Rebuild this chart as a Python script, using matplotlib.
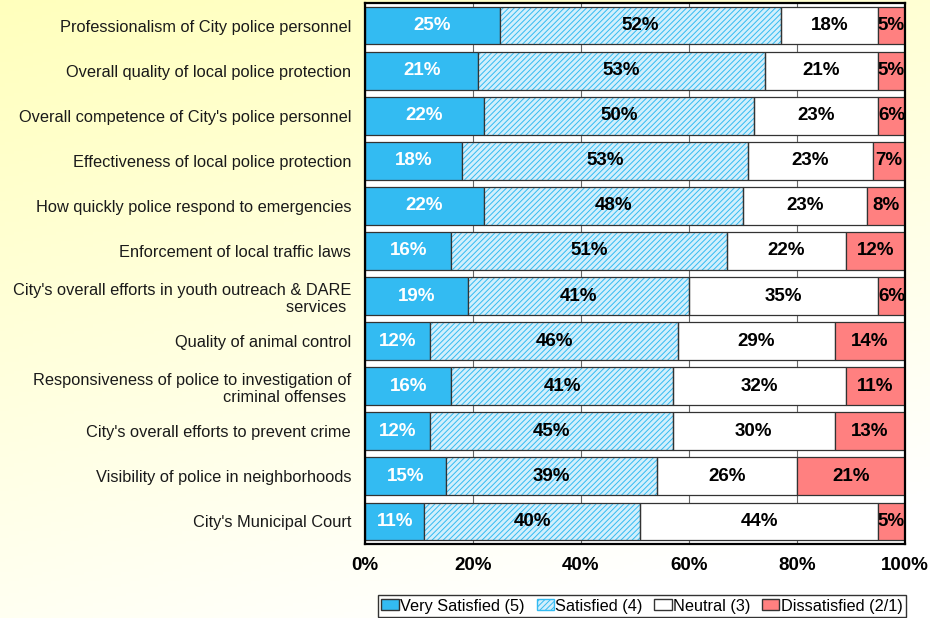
import numpy as np
import matplotlib
matplotlib.use("Agg")
import matplotlib.pyplot as plt
from matplotlib.patches import Patch

plt.rcParams['font.family'] = ['Liberation Sans', 'DejaVu Sans']
plt.rcParams['hatch.linewidth'] = 0.7

items = [
    "Professionalism of City police personnel",
    "Overall quality of local police protection",
    "Overall competence of City's police personnel",
    "Effectiveness of local police protection",
    "How quickly police respond to emergencies",
    "Enforcement of local traffic laws",
    "City's overall efforts in youth outreach & DARE\nservices ",
    "Quality of animal control",
    "Responsiveness of police to investigation of\ncriminal offenses ",
    "City's overall efforts to prevent crime",
    "Visibility of police in neighborhoods",
    "City's Municipal Court",
]
very_satisfied = [25, 21, 22, 18, 22, 16, 19, 12, 16, 12, 15, 11]
satisfied = [52, 53, 50, 53, 48, 51, 41, 46, 41, 45, 39, 40]
neutral = [18, 21, 23, 23, 23, 22, 35, 29, 32, 30, 26, 44]
dissatisfied = [5, 5, 6, 7, 8, 12, 6, 14, 11, 13, 21, 5]

series = [
    ("Very Satisfied (5)", very_satisfied, '#33bbf2', None, 'white'),
    ("Satisfied (4)", satisfied, '#d2effc', '//////', 'black'),
    ("Neutral (3)", neutral, 'white', None, 'black'),
    ("Dissatisfied (2/1)", dissatisfied, '#ff8080', None, 'black'),
]

fig = plt.figure(figsize=(9.3, 6.18), dpi=100)

# gradient background
bg = fig.add_axes([0, 0, 1, 1])
yy, xx = np.mgrid[0:1:200j, 0:1:200j]
t = np.clip(0.8 * yy + 0.35 * xx, 0, 1)
top = np.array([1.0, 1.0, 0.74])
bot = np.array([1.0, 1.0, 1.0])
img = top[None, None, :] * (1 - t[..., None]) + bot[None, None, :] * t[..., None]
bg.imshow(img, aspect='auto', extent=[0, 1, 0, 1], origin='upper')
bg.axis('off')

ax = fig.add_axes([365 / 930, 1 - 544 / 618, 540 / 930, 541 / 618])
ax.set_facecolor('white')

y = np.arange(len(items))
left = np.zeros(len(items))
for name, vals, color, hatch, tcolor in series:
    vals = np.array(vals, dtype=float)
    if hatch:
        ax.barh(y, vals, left=left, height=0.84, color=color, hatch=hatch,
                edgecolor='#33bbf2', linewidth=0, zorder=2)
        ax.barh(y, vals, left=left, height=0.84, color='none',
                edgecolor='#333333', linewidth=0.9, zorder=2.2)
    else:
        ax.barh(y, vals, left=left, height=0.84, color=color,
                edgecolor='#333333', linewidth=0.9, zorder=2)
    for i in range(len(items)):
        a = left[i]
        b = min(left[i] + vals[i], 100)
        ax.text((a + b) / 2, y[i], f"{int(vals[i])}%", ha='center', va='center',
                color=tcolor, fontsize=13.5, fontweight='bold', zorder=3)
    left += vals

ax.set_xlim(0, 100)
ax.set_ylim(len(items) - 0.5, -0.5)
ax.set_xticks([0, 20, 40, 60, 80, 100])
ax.set_xticklabels([f"{v}%" for v in [0, 20, 40, 60, 80, 100]],
                   fontsize=13.5, fontweight='bold')
ax.set_yticks(y)
ax.set_yticklabels(items, fontsize=11.8, color='#1a1a1a')
ax.tick_params(axis='y', length=0, pad=10)
ax.tick_params(axis='x', length=0, pad=9)
ax.grid(axis='x', color='#666666', linewidth=0.8, zorder=0)
for s in ax.spines.values():
    s.set_linewidth(1.6)
    s.set_color('black')

handles = []
for name, vals, color, hatch, tcolor in series:
    if hatch:
        handles.append(Patch(facecolor=color, edgecolor='#33bbf2', hatch=hatch, label=name))
    else:
        handles.append(Patch(facecolor=color, edgecolor='#333333', label=name))
leg = fig.legend(handles=handles, loc='center', bbox_to_anchor=(642 / 930, 1 - 606 / 618),
                 ncol=4, fontsize=11.7, frameon=True, fancybox=False, handlelength=1.05,
                 handleheight=0.68, handletextpad=0.08, columnspacing=0.75,
                 borderpad=0.2, borderaxespad=0)
leg.get_frame().set_edgecolor('black')
leg.get_frame().set_linewidth(1.0)

fig.savefig('out.png', dpi=100)
